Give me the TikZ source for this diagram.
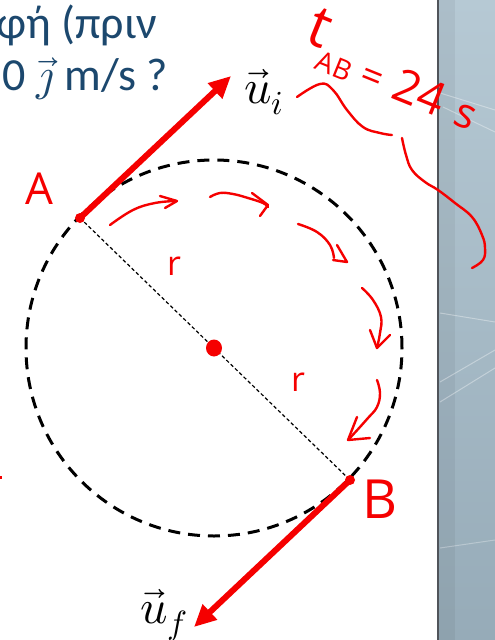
\documentclass[tikz,border=0pt]{standalone}
\usepackage{fontspec}
\usepackage{unicode-math}
\setmathfont{Latin Modern Math}
\usetikzlibrary{arrows.meta}
\newfontfamily\calfont{Carlito}
\newfontfamily\handfont{Open Sans}
\definecolor{titleblue}{RGB}{28,72,110}
\definecolor{panelTop}{RGB}{182,201,212}
\definecolor{panelBot}{RGB}{150,171,184}
\definecolor{panelEdge}{RGB}{80,84,90}
\definecolor{inkred}{RGB}{245,0,0}
\begin{document}
\begin{tikzpicture}[x=1pt,y=-1pt,
  hand/.style={inkred, line width=2.4pt, line cap=round, line join=round},
  vecarrow/.style={inkred, line width=6pt, -{Triangle[length=22pt,width=20pt]}},
  lbl/.style={inner sep=0pt, font=\handfont, text=inkred},
  mathlbl/.style={inner sep=0pt, text=black},
  title/.style={inner sep=0pt, text=titleblue, font=\calfont\fontsize{46}{54}\selectfont},
]
\useasboundingbox (0,0) rectangle (495,640);
\clip (0,0) rectangle (495,640);
\fill[white] (0,0) rectangle (495,640);
% side panel
\shade[top color=panelTop, bottom color=panelBot] (438,0) rectangle (495,640);
\fill[black, opacity=0.05] (439,0) rectangle (455,640);
\draw[white, opacity=0.35, line width=1pt] (440,93) -- (495,110);
\draw[white, opacity=0.35, line width=1pt] (443,107) -- (495,132);
\draw[white, opacity=0.35, line width=1pt] (440,313) -- (495,322);
\draw[white, opacity=0.35, line width=1pt] (440,382) -- (495,350);
\draw[white, opacity=0.35, line width=1pt] (440,402) -- (495,368);
\draw[white, opacity=0.3, line width=1pt] (440,548) -- (495,540);
\draw[panelEdge, line width=2.5pt] (438,0) -- (438,640);

% title text
\node[title, anchor=base east] (t1) at (157,38) {φή (πριν};
\node[title, anchor=base east] (t2) at (168,90) {0\hspace{10pt}$\vec{\jmath}$ m/s ?};

% geometry
\coordinate (O) at (214,348);
\coordinate (A) at (80,218);
\coordinate (B) at (350,480);
\coordinate (Ui) at (231,76);
\coordinate (Uf) at (194,627);

\draw[black, line width=3pt, dash pattern=on 12pt off 8pt] (O) circle[radius=188pt];
\draw[black, line width=1.2pt, dash pattern=on 3.5pt off 2.5pt] (A) -- (B);

\draw[vecarrow] (A) -- (Ui);
\draw[vecarrow] (B) -- (Uf);
\fill[inkred] (A) circle[radius=5pt];
\fill[inkred] (B) circle[radius=5pt];
\fill[inkred] (O) circle[x radius=8pt, y radius=8.5pt];

% vector labels
\node[mathlbl, anchor=base west] (ui) at (244,103) {\fontsize{48}{48}\selectfont $\vec{u}_i$};
\node[mathlbl, anchor=base west] (uf) at (140,623) {\fontsize{48}{48}\selectfont $\vec{u}_f$};

% handwritten labels
\node[lbl, font=\handfont\fontsize{44}{44}\selectfont] (la) at (39,189) {A};
\node[lbl, font=\handfont\fontsize{54}{54}\selectfont] (lb) at (380,499) {B};
\node[lbl, font=\handfont\fontsize{34}{34}\selectfont] (r1) at (174,266) {r};
\node[lbl, font=\handfont\fontsize{34}{34}\selectfont] (r2) at (298,382) {r};

% t_AB = 24 s
\node[lbl, rotate=-22, font=\handfont\fontsize{58}{58}\selectfont] (tt) at (320,28) {t};
\node[lbl, rotate=-22, font=\handfont\fontsize{28}{28}\selectfont] (tab) at (334,66) {AB};
\node[lbl, rotate=-22, font=\handfont\fontsize{38}{38}\selectfont] (teq) at (371,80) {=};
\node[lbl, rotate=-22, font=\handfont\fontsize{46}{46}\selectfont] (t24) at (420,92) {24};
\node[lbl, rotate=-22, font=\handfont\fontsize{42}{42}\selectfont] (ts) at (465,117) {s};

% curly connector from u_i to the time note
\draw[hand] plot[smooth, tension=0.7] coordinates {(297,97) (320,84) (333,90) (347,110) (363,127) (380,133) (392,135)};
\draw[hand] plot[smooth, tension=0.7] coordinates {(402,138) (406,155) (412,170) (425,182) (438,190) (455,203) (472,217) (482,235) (485,248) (483,260) (472,268)};

% motion arrows along the circle
\draw[hand] plot[smooth, tension=0.7] coordinates {(110,225) (133,210) (155,203) (176,201)};
\draw[hand] (160,196) -- (177,201) -- (165,208);

\draw[hand] plot[smooth, tension=0.7] coordinates {(210,197) (220,193) (233,194) (248,198) (263,203) (268,207)};
\draw[hand] (252,193) -- (268,205) -- (260,216);

\draw[hand] plot[smooth, tension=0.7] coordinates {(298,224) (317,232) (330,245) (334,258)};
\draw[hand] (337,245) -- (347,262) -- (333,260);

\draw[hand] plot[smooth, tension=0.7] coordinates {(362,288) (373,300) (381,317) (380,333) (377,348)};
\draw[hand] (370,330) -- (377,348) -- (390,335);

\draw[hand] plot[smooth, tension=0.7] coordinates {(377,380) (380,393) (377,407) (368,418) (360,427) (349,439)};
\draw[hand] (357,417) -- (348,440) -- (370,438);

% small stray mark at left edge
\fill[inkred] (0,476) rectangle (2,479);
\end{tikzpicture}
\end{document}
